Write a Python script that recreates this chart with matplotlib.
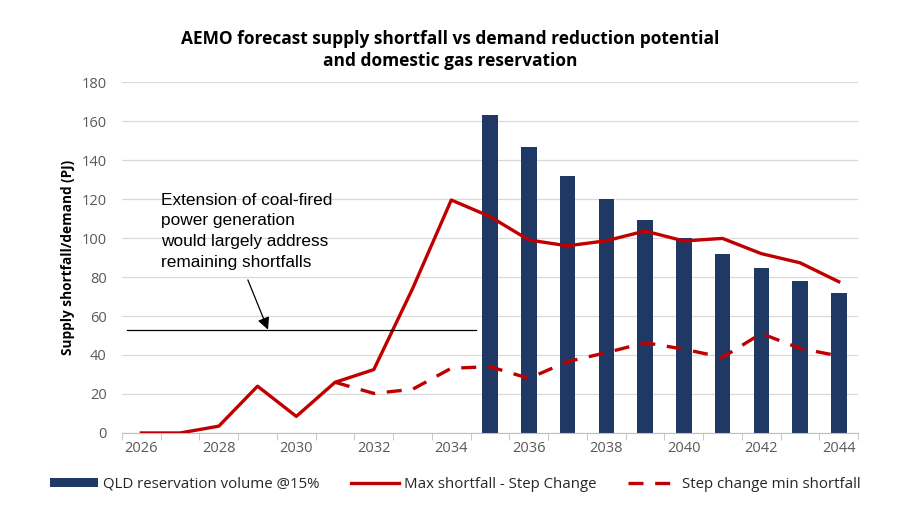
import matplotlib.pyplot as plt
import numpy as np

years = list(range(2026, 2045))
tick_years = [str(y) if y % 2 == 0 else '' for y in years]

# QLD reservation volume bars (only 2035 onwards)
bar_years = list(range(2035, 2045))
reservation = [163, 146.5, 132, 120, 109, 100, 92, 84.5, 78, 72]

# max shortfall - step change
max_short = [0, 0, 3.5, 24, 8.5, 26, 32.5, 74, 119.5, 111, 99, 96, 98.6, 103.6, 98.5, 99.8, 92, 87.3, 77.6]

# step change min shortfall (from 2031)
min_years = list(range(2031, 2045))
min_short = [26, 20.3, 22.4, 33.2, 34, 28, 36.6, 41.2, 46.3, 43, 38.8, 51, 43.4, 39.5]

navy = '#1F3864'
red = '#C00000'
tick_col = '#595959'

plt.rcParams['font.family'] = ['Open Sans', 'DejaVu Sans']

fig = plt.figure(figsize=(9.1, 5.13), dpi=100)
ax = fig.add_axes([0.134, 0.156, 0.809, 0.684])

x = np.arange(len(years))
xb = [years.index(y) for y in bar_years]
xm = [years.index(y) for y in min_years]

ax.bar(xb, reservation, width=0.4, color=navy, zorder=2, label='QLD reservation volume @15%')
ax.plot(x, max_short, color=red, lw=2.4, zorder=3, label='Max shortfall - Step Change')
ax.plot(xm, min_short, color=red, lw=2.4, dashes=(4.5, 3.5), zorder=3, label='Step change min shortfall')

# annotation: horizontal line with arrow and text
ax.plot([-0.36, 8.63], [52.8, 52.8], color='black', lw=0.9, zorder=4)
ax.annotate('', xy=(3.27, 53.0), xytext=(2.75, 78.5),
            arrowprops=dict(arrowstyle='-|>', color='black', lw=0.9, mutation_scale=18,
                            shrinkA=0, shrinkB=0), zorder=4)
ax.text(0.52, 123.3, 'Extension of coal-fired\npower generation\nwould largely address\nremaining shortfalls',
        family='Liberation Sans', fontsize=12.4, va='top', ha='left', linespacing=1.48, zorder=4)

ax.set_xlim(-0.5, len(years) - 0.5)
ax.set_ylim(0, 180)
ax.set_yticks(range(0, 181, 20))
ax.set_xticks(x)
ax.set_xticklabels(tick_years)
ax.tick_params(axis='x', length=0, colors=tick_col, labelsize=10.5, pad=6)
ax.set_xticks(np.arange(-0.5, len(years), 1), minor=True)
ax.tick_params(axis='x', which='minor', length=5, color='#BFBFBF')
ax.tick_params(axis='y', length=0, colors=tick_col, labelsize=10.5, pad=11)
ax.grid(axis='y', color='#D9D9D9', lw=0.9, zorder=0)
ax.set_axisbelow(True)
for s in ['left', 'right', 'top']:
    ax.spines[s].set_visible(False)
ax.spines['bottom'].set_color('#BFBFBF')

ax.set_ylabel('Supply shortfall/demand (PJ)', fontsize=9.8, fontweight='bold', labelpad=5)

fig.suptitle('AEMO forecast supply shortfall vs demand reduction potential\nand domestic gas reservation',
             x=0.495, y=0.942, fontsize=12.5, fontweight='bold', linespacing=1.3)

handles, labels = ax.get_legend_handles_labels()
order = [2, 0, 1]
fig.legend([handles[i] for i in order], [labels[i] for i in order],
           loc='center', bbox_to_anchor=(0.5, 0.056), ncol=3, frameon=False, fontsize=10.8,
           handlelength=3.2, handleheight=0.5, columnspacing=2.1, handletextpad=0.35,
           labelcolor='#262626')

fig.savefig('out.png', dpi=100)
